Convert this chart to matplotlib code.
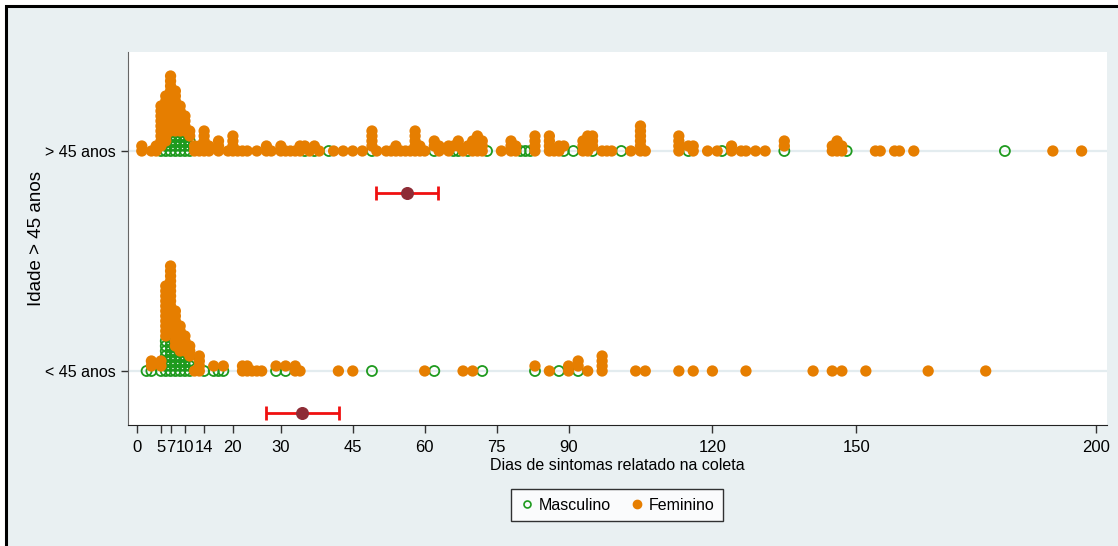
import matplotlib.pyplot as plt
from matplotlib.patches import Rectangle
from matplotlib.lines import Line2D

plt.rcParams['font.family'] = ['Liberation Sans', 'DejaVu Sans']

# grupo > 45 anos: dia, n masculino, n feminino
dias_mais45 = [1, 3, 4, 5, 6, 7, 8, 9, 10, 11, 12, 13, 14, 15, 17, 19, 20, 21, 22, 23,
               25, 27, 28, 30, 31, 32, 33, 34, 35, 36, 37, 38, 40, 41, 43, 45, 47, 49, 50, 52,
               53, 54, 55, 56, 57, 58, 59, 60, 62, 63, 65, 66, 67, 68, 69, 70, 71, 72, 73, 76,
               78, 79, 80, 81, 82, 83, 86, 87, 88, 89, 91, 93, 94, 95, 97, 98, 99, 101, 103, 105,
               106, 113, 115, 116, 119, 121, 122, 124, 126, 127, 129, 131, 135, 145, 146, 147, 148, 154, 155, 158,
               159, 162, 181, 191, 197]
masc_mais45 = [0, 0, 0, 1, 2, 4, 4, 4, 4, 3, 0, 0, 0, 0, 0, 0, 0, 0, 0, 0,
               0, 0, 0, 0, 0, 0, 0, 0, 1, 0, 1, 0, 1, 0, 0, 0, 0, 1, 0, 0,
               0, 0, 0, 0, 0, 0, 0, 0, 1, 0, 0, 1, 1, 0, 1, 0, 0, 0, 1, 0,
               0, 0, 1, 1, 1, 0, 0, 0, 0, 1, 1, 0, 0, 1, 0, 0, 0, 1, 0, 0,
               0, 0, 1, 0, 0, 0, 1, 0, 0, 0, 0, 0, 1, 0, 0, 0, 1, 0, 0, 0,
               0, 0, 1, 0, 0]
fem_mais45 = [2, 1, 2, 9, 10, 12, 9, 6, 4, 2, 2, 2, 5, 2, 3, 1, 4, 1, 1, 1,
              1, 2, 1, 2, 1, 1, 1, 2, 1, 1, 1, 1, 0, 1, 1, 1, 1, 4, 1, 1,
              1, 2, 1, 1, 1, 5, 2, 1, 2, 2, 2, 1, 2, 1, 1, 3, 4, 3, 0, 1,
              3, 2, 0, 0, 0, 4, 4, 1, 2, 1, 0, 3, 4, 3, 1, 1, 1, 0, 1, 6,
              1, 4, 1, 2, 1, 1, 0, 2, 1, 1, 1, 1, 2, 2, 3, 2, 0, 1, 1, 1,
              1, 1, 0, 1, 1]

# grupo < 45 anos
dias_menos45 = [2, 3, 5, 6, 7, 8, 9, 10, 11, 12, 13, 14, 16, 17, 18, 22, 23, 24, 25, 26,
                29, 31, 33, 34, 42, 45, 49, 60, 62, 68, 70, 72, 83, 86, 88, 90, 92, 94, 97, 104,
                106, 113, 116, 120, 127, 141, 145, 147, 152, 165, 177]
masc_menos45 = [1, 1, 1, 7, 13, 5, 4, 4, 3, 0, 0, 1, 1, 1, 1, 0, 0, 0, 0, 0,
                1, 1, 0, 0, 0, 0, 1, 0, 1, 0, 0, 1, 1, 0, 1, 0, 1, 0, 0, 0,
                0, 0, 0, 0, 0, 0, 0, 0, 0, 0, 0]
fem_menos45 = [0, 2, 2, 11, 9, 8, 6, 4, 3, 1, 4, 0, 1, 0, 1, 2, 2, 1, 1, 1,
               1, 1, 2, 1, 1, 1, 0, 1, 0, 1, 1, 0, 1, 1, 0, 2, 2, 1, 4, 1,
               1, 1, 1, 1, 1, 1, 1, 1, 1, 1, 1]

# media e IC95%
media_mais45, ic_mais45 = 56.3, (49.8, 62.8)
media_menos45, ic_menos45 = 34.4, (26.9, 42.1)

xticks = [0, 5, 7, 10, 14, 20, 30, 45, 60, 75, 90, 120, 150, 200]
ylabels = ['< 45 anos', '> 45 anos']

passo = 5 / 220.0
fs = 11.5


def empilha(dias, masc, fem, base):
    xm, ym, xf, yf = [], [], [], []
    for d, m, f in zip(dias, masc, fem):
        for k in range(m):
            xm.append(d)
            ym.append(base + k * passo)
        for k in range(f):
            xf.append(d)
            yf.append(base + (m + k) * passo)
    return xm, ym, xf, yf


fig = plt.figure(figsize=(11.18, 5.46), dpi=100)
fig.patch.set_facecolor('white')
fig.patches.append(Rectangle((6 / 1118, -0.1), 1.2, 0.1 + 1 - 6 / 546, transform=fig.transFigure,
                             facecolor='#e9f0f2', edgecolor='black', linewidth=2.2, zorder=-10))

ax = fig.add_axes([128 / 1118, 1 - 425 / 546, (1107 - 128) / 1118, (425 - 52) / 546])
ax.set_facecolor('white')

verde = '#1e9a1e'
laranja = '#e67e00'

for base in (0, 1):
    ax.axhline(base, color='#e3ecef', lw=1.6, zorder=0)

for dias, masc, fem, base in [(dias_mais45, masc_mais45, fem_mais45, 1),
                              (dias_menos45, masc_menos45, fem_menos45, 0)]:
    xm, ym, xf, yf = empilha(dias, masc, fem, base)
    ax.scatter(xm, ym, s=52, facecolors='none', edgecolors=verde, linewidths=1.3, zorder=2)
    ax.scatter(xf, yf, s=66, color=laranja, edgecolors='none', zorder=3)

for media, ic, y in [(media_mais45, ic_mais45, 1 - 42 / 220), (media_menos45, ic_menos45, -42 / 220)]:
    ax.errorbar([media], [y], xerr=[[media - ic[0]], [ic[1] - media]], fmt='none',
                ecolor='#f01010', elinewidth=2, capsize=5, capthick=2, zorder=4)
    ax.scatter([media], [y], s=70, color='#8e2c36', zorder=5)

ax.set_xlim(-9 / 4.795, (1107 - 137) / 4.795)
ax.set_ylim(-54 / 220, 1 + 99 / 220)

ax.set_xticks(xticks)
ax.set_xticklabels([str(t) for t in xticks], fontsize=fs + 0.5)
ax.set_yticks([0, 1])
ax.set_yticklabels(ylabels, fontsize=fs)
ax.tick_params(axis='x', length=6, width=1, color='#333333', pad=5)
ax.tick_params(axis='y', length=5, width=1, color='#333333', pad=4)

for s in ('top', 'right'):
    ax.spines[s].set_visible(False)
ax.spines['left'].set_color('#666666')
ax.spines['bottom'].set_color('#222222')

ax.set_xlabel('Dias de sintomas relatado na coleta', fontsize=fs, labelpad=2)
ax.set_ylabel('Idade > 45 anos', fontsize=13.5, labelpad=0)

handles = [Line2D([], [], ls='none', marker='o', markersize=5, markerfacecolor='none',
                  markeredgecolor=verde, markeredgewidth=1.2),
           Line2D([], [], ls='none', marker='o', markersize=6, color=laranja)]
leg = fig.legend(handles, ['Masculino', 'Feminino'], loc='center', bbox_to_anchor=(617 / 1118, 1 - 505 / 546),
                 ncol=2, fontsize=fs, frameon=True, fancybox=False, edgecolor='black',
                 handletextpad=0.3, columnspacing=1.2, handlelength=0.9, borderpad=0.55)
leg.get_frame().set_linewidth(1)

fig.savefig('out.png', dpi=100, facecolor=fig.get_facecolor())
